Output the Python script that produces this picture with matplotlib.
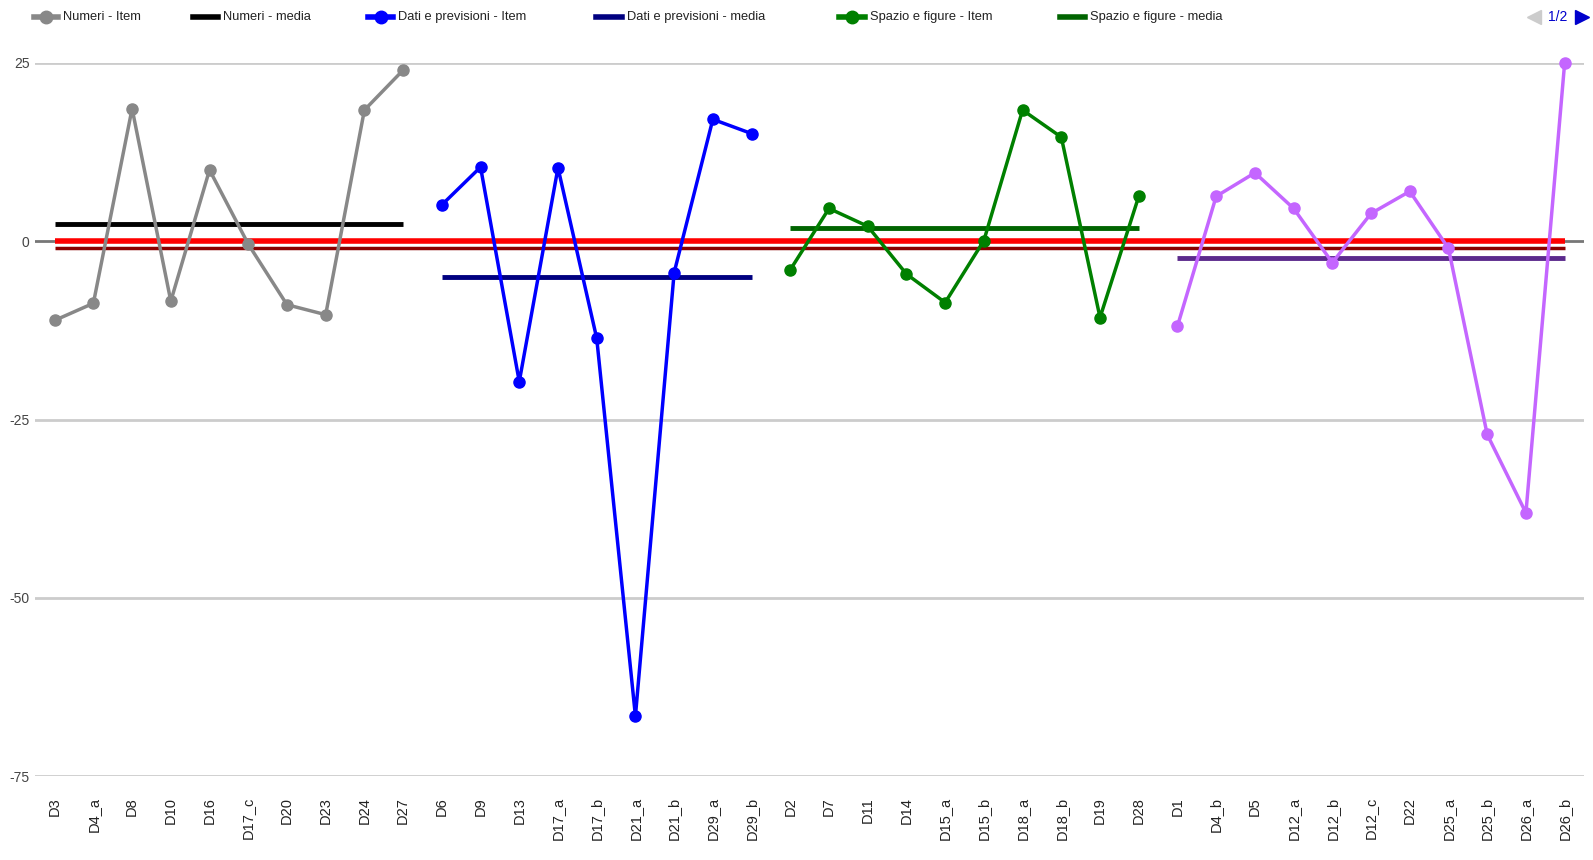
import matplotlib
matplotlib.use('Agg')
import matplotlib.pyplot as plt
from matplotlib.lines import Line2D
import numpy as np

plt.rcParams['font.family'] = ['Liberation Sans', 'DejaVu Sans']

# dati
cat_numeri = ['D3', 'D4_a', 'D8', 'D10', 'D16', 'D17_c', 'D20', 'D23', 'D24', 'D27']
val_numeri = [-11.1, -8.7, 18.6, -8.4, 10.0, -0.4, -8.9, -10.3, 18.4, 24.0]
media_numeri = 2.4

cat_dati = ['D6', 'D9', 'D13', 'D17_a', 'D17_b', 'D21_a', 'D21_b', 'D29_a', 'D29_b']
val_dati = [5.1, 10.4, -19.7, 10.3, -13.6, -66.6, -4.4, 17.1, 15.1]
media_dati = -5.0

cat_spazio = ['D2', 'D7', 'D11', 'D14', 'D15_a', 'D15_b', 'D18_a', 'D18_b', 'D19', 'D28']
val_spazio = [-4.0, 4.6, 2.1, -4.6, -8.6, 0.1, 18.4, 14.6, -10.7, 6.3]
media_spazio = 1.9

cat_rel = ['D1', 'D4_b', 'D5', 'D12_a', 'D12_b', 'D12_c', 'D22', 'D25_a', 'D25_b', 'D26_a', 'D26_b']
val_rel = [-11.9, 6.3, 9.6, 4.6, -3.0, 3.9, 7.0, -1.0, -27.1, -38.1, 25.0]
media_rel = -2.3

media_totale = -0.9

gruppi = [
    (cat_numeri, val_numeri, media_numeri, '#888888', '#000000'),
    (cat_dati, val_dati, media_dati, '#0000ff', '#000080'),
    (cat_spazio, val_spazio, media_spazio, '#008000', '#006400'),
    (cat_rel, val_rel, media_rel, '#c466ff', '#5b2a8c'),
]

W, H = 1593, 860
fig = plt.figure(figsize=(W / 100, H / 100), dpi=100)
ax = fig.add_axes([35.3 / W, 1 - 776 / H, (1584 - 35.3) / W, (776 - 63) / H])

tutte = cat_numeri + cat_dati + cat_spazio + cat_rel
n = len(tutte)

# griglia
for yv in [25, -25, -50, -75]:
    ax.axhline(yv, color='#cccccc', lw=2, zorder=0)
ax.axhline(0, color='#777777', lw=2, zorder=1)

# linee di riferimento
ax.plot([0, n - 1], [0, 0], color='#ff0000', lw=4, zorder=2, solid_capstyle='butt')
ax.plot([0, n - 1], [media_totale, media_totale], color='#8b0000', lw=2.5, zorder=2,
        solid_capstyle='butt')

start = 0
for cats, vals, media, c_item, c_media in gruppi:
    x = np.arange(start, start + len(cats))
    ax.plot(x, vals, color=c_item, lw=2.5, marker='o', ms=8, zorder=4, clip_on=False)
    ax.plot([x[0], x[-1]], [media, media], color=c_media, lw=3.5, zorder=3,
            solid_capstyle='butt')
    start += len(cats)

ax.set_xlim(-0.5, n - 0.5)
ax.set_ylim(-75, 25)
for s in ax.spines.values():
    s.set_visible(False)

ax.set_yticks([25, 0, -25, -50, -75])
ax.set_yticklabels(['25', '0', '-25', '-50', '-75'])
ax.tick_params(axis='y', length=0, pad=4, labelsize=10, labelcolor='#444444')
ax.set_xticks(np.arange(n))
ax.set_xticklabels(tutte, rotation=90, fontsize=10.5)
ax.tick_params(axis='x', length=0, pad=15, labelcolor='#222222')

# legenda manuale
def px(xp, yp):
    return xp / W, 1 - yp / H

ly = 17.3
voci = [
    (34, 58, 63, '#888888', True, 'Numeri - Item'),
    (193, 218, 223, '#000000', False, 'Numeri - media'),
    (368, 393, 398, '#0000ff', True, 'Dati e previsioni - Item'),
    (596, 622, 627, '#000080', False, 'Dati e previsioni - media'),
    (839, 865, 870, '#008000', True, 'Spazio e figure - Item'),
    (1060, 1085, 1090, '#006400', False, 'Spazio e figure - media'),
]
for x0, x1, xt, col, mk, testo in voci:
    a, b = px(x0, ly)
    c, _ = px(x1, ly)
    fig.add_artist(Line2D([a, c], [b, b], color=col, lw=4, transform=fig.transFigure))
    if mk:
        fig.add_artist(Line2D([(a + c) / 2], [b], color=col, marker='o', ms=9,
                              transform=fig.transFigure))
    tx, ty = px(xt, ly)
    fig.text(tx, ty, testo, ha='left', va='center', fontsize=9.3, color='#222222')

# indicatore pagina
tx, ty = px(1534, ly)
fig.add_artist(Line2D([tx], [ty], marker='<', ms=10, color='#cccccc', transform=fig.transFigure))
tx, ty = px(1558, ly)
fig.text(tx, ty, '1/2', ha='center', va='center', fontsize=10, color='#0000cc')
tx, ty = px(1582, ly)
fig.add_artist(Line2D([tx], [ty], marker='>', ms=10, color='#0000cc', transform=fig.transFigure))

plt.savefig('out.png', dpi=100)
